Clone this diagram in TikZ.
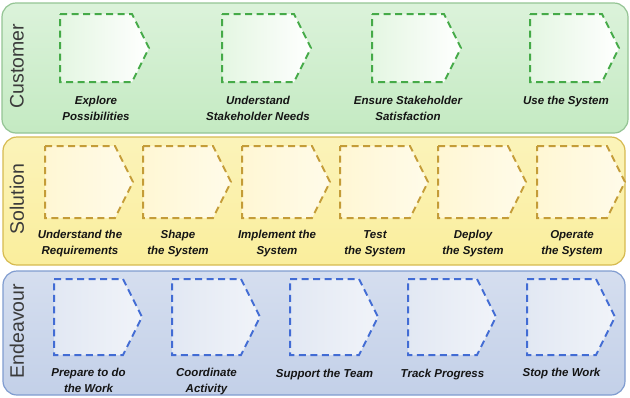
\documentclass[tikz,border=0pt]{standalone}
\usepackage{fontspec}
\setmainfont{Liberation Sans}
\definecolor{cfill}{HTML}{C4EAC2}
\definecolor{cline}{HTML}{94C494}
\definecolor{cdash}{HTML}{45AA48}
\definecolor{cbox}{HTML}{E4F6E2}
\definecolor{sfill}{HTML}{FAEE9C}
\definecolor{sline}{HTML}{D6BA50}
\definecolor{sdash}{HTML}{C49C38}
\definecolor{sbox}{HTML}{FFF7D4}
\definecolor{efill}{HTML}{C3D0E8}
\definecolor{eline}{HTML}{809CD0}
\definecolor{edash}{HTML}{426CD4}
\definecolor{ebox}{HTML}{E2E8F3}
\definecolor{txt}{HTML}{151515}
\definecolor{lane}{HTML}{3A3A3A}
\begin{document}
\begin{tikzpicture}[x=1pt,y=-1pt,
  band/.style={rounded corners=14pt,line width=1.2pt},
  lanelabel/.style={rotate=90,font=\fontsize{19.5}{20}\selectfont,text=lane,inner sep=0pt},
  act/.style={font=\fontsize{11.5}{16}\selectfont\bfseries\itshape,text=txt,align=center,inner sep=0pt,execute at begin node=\strut},
  pent/.style={dash pattern=on 7pt off 4.5pt,line width=2pt}]
\useasboundingbox (0,0) rectangle (630,397);
% bands
\draw[band,draw=cline,top color=cfill!60!white,bottom color=cfill] (2,3) rectangle (628,133);
\draw[band,draw=sline,top color=sfill!70!white,bottom color=sfill] (3,137) rectangle (625,265);
\draw[band,draw=eline,top color=efill!70!white,bottom color=efill] (3,271) rectangle (625,395);
\node[lanelabel] (lc) at (17,66) {Customer};
\node[lanelabel] (ls) at (17,199) {Solution};
\node[lanelabel] (le) at (17,331) {Endeavour};
% customer row
\foreach \x/\n/\dy/\t in {60/c1/96/{Explore\\Possibilities},222/c2/96/{Understand\\Stakeholder Needs},372/c3/96/{Ensure Stakeholder\\Satisfaction},530/c4/93/{Use the System}}{
  \draw[pent,draw=cdash,left color=cbox,right color=white] (\x,14) -- ++(72,0) -- ++(17,34) -- ++(-17,34) -- ++(-72,0) -- cycle;
  \node[act,anchor=north] (\n) at (\x+36,\dy) {\t};
}
% solution row
\foreach \x/\n/\t in {45/s1/{Understand the\\Requirements},143/s2/{Shape\\the System},242/s3/{Implement the\\System},340/s4/{Test\\the System},438/s5/{Deploy\\the System},537/s6/{Operate\\the System}}{
  \draw[pent,draw=sdash,left color=sbox,right color=sbox!50!white] (\x,146) -- ++(70,0) -- ++(18,36) -- ++(-18,36) -- ++(-70,0) -- cycle;
  \node[act,anchor=north] (\n) at (\x+35,230) {\t};
}
% endeavour row
\foreach \x/\n/\dy/\t in {54/e1/368/{Prepare to do\\the Work},172/e2/368/{Coordinate\\Activity},290/e3/366/{Support the Team},408/e4/366/{Track Progress},527/e5/365/{Stop the Work}}{
  \draw[pent,draw=edash,left color=ebox,right color=ebox!50!white] (\x,279) -- ++(69,0) -- ++(19,38) -- ++(-19,38) -- ++(-69,0) -- cycle;
  \node[act,anchor=north] (\n) at (\x+34.5,\dy) {\t};
}
\end{tikzpicture}
\end{document}
